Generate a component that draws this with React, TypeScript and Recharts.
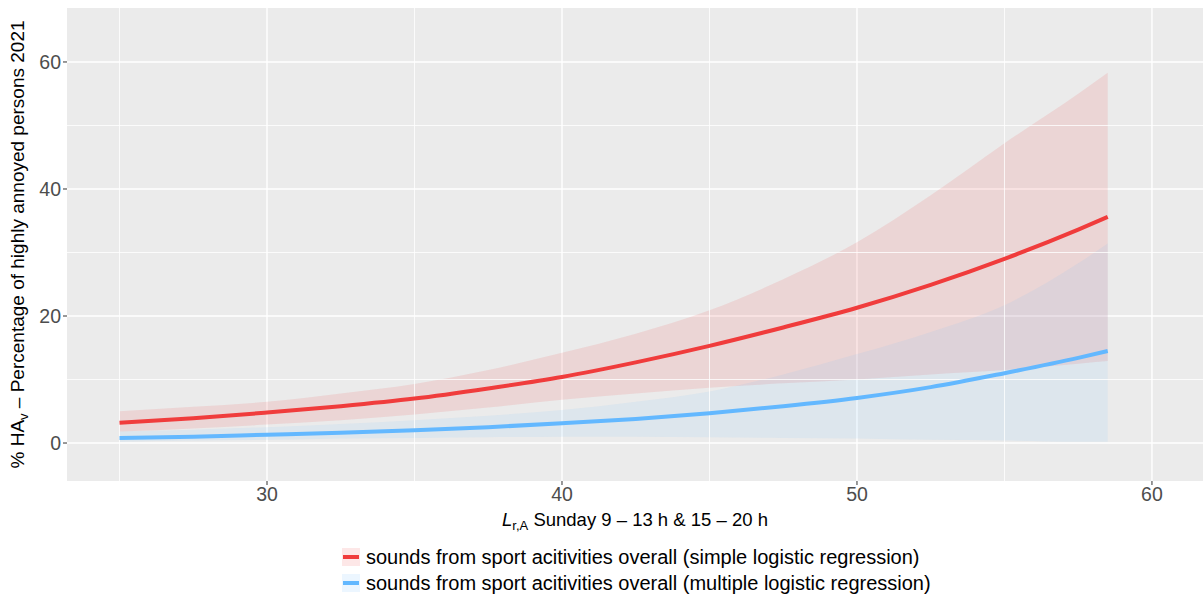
import React from "react";
import { ComposedChart, Area, Line, XAxis, YAxis, CartesianGrid, ReferenceLine } from "recharts";

// sound level (x) and estimated % highly annoyed
const levels = [25, 27.5, 30, 32.5, 35, 37.5, 40, 42.5, 45, 47.5, 50, 52.5, 55, 57.5, 58.5];
const simpleFit = [3.2, 3.9, 4.8, 5.8, 7.0, 8.6, 10.4, 12.7, 15.3, 18.2, 21.3, 24.9, 29.0, 33.6, 35.6];
const simpleUpper = [5.0, 5.7, 6.5, 7.8, 9.3, 11.5, 14.2, 17.2, 20.9, 25.8, 31.6, 39.0, 47.2, 55.0, 58.3];
const simpleLower = [1.8, 2.3, 2.9, 3.6, 4.5, 5.6, 6.8, 7.8, 8.7, 9.4, 10.0, 10.8, 11.5, 12.5, 12.9];
const multipleFit = [0.8, 1.0, 1.3, 1.6, 2.0, 2.5, 3.1, 3.8, 4.7, 5.8, 7.1, 8.8, 11.0, 13.4, 14.5];
const multipleUpper = [1.8, 2.1, 2.5, 3.0, 3.6, 4.3, 5.2, 6.5, 8.1, 10.8, 14.0, 17.5, 21.7, 28.3, 31.4];
const multipleLower = [0.2, 0.4, 0.5, 0.7, 0.8, 0.9, 1.0, 1.0, 0.9, 0.8, 0.7, 0.5, 0.4, 0.2, 0.2];

const xTicks = [30, 40, 50, 60];
const yTicks = [0, 20, 40, 60];
const xMinor = [25, 35, 45, 55];
const yMinor = [10, 30, 50];

const legendLabels = [
  "sounds from sport acitivities overall (simple logistic regression)",
  "sounds from sport acitivities overall (multiple logistic regression)",
];

const RED = "#F03C3C";
const BLUE = "#63B8FF";
const FONT = "'Liberation Sans', Arial, sans-serif";

const data = levels.map((x, i) => ({
  x,
  simple: simpleFit[i],
  simpleBand: [simpleLower[i], simpleUpper[i]],
  multiple: multipleFit[i],
  multipleBand: [multipleLower[i], multipleUpper[i]],
}));

const XTitle = (props: any) => {
  const vb = props.viewBox || {};
  const cx = vb.x + vb.width / 2;
  return (
    <text x={cx} y={526} textAnchor="middle" fontSize={18.5} fill="#000" fontFamily={FONT}>
      <tspan fontStyle="italic">L</tspan>
      <tspan fontSize={13} dy={4}>r,A</tspan>
      <tspan dy={-4}> Sunday 9 – 13 h &amp; 15 – 20 h</tspan>
    </text>
  );
};

const YTitle = (props: any) => {
  const vb = props.viewBox || {};
  const cy = vb.y + vb.height / 2;
  return (
    <text x={0} y={0} transform={`translate(24, ${cy}) rotate(-90)`} textAnchor="middle" fontSize={19} fill="#000" fontFamily={FONT}>
      <tspan>% HA</tspan>
      <tspan fontSize={13} dy={4}>v</tspan>
      <tspan dy={-4}> – Percentage of highly annoyed persons 2021</tspan>
    </text>
  );
};

const LegendBox = () => {
  const colors = [RED, BLUE];
  return (
    <div style={{ position: "absolute", left: 342, top: 544, fontFamily: FONT, fontSize: 20, color: "#000" }}>
      {legendLabels.map((t, i) => (
        <div key={t} style={{ display: "flex", alignItems: "center", height: 26, whiteSpace: "nowrap" }}>
          <svg width={18} height={18} style={{ marginRight: 6 }}>
            <rect x={0} y={0} width={18} height={18} fill={colors[i]} fillOpacity={0.12} />
            <line x1={1} x2={17} y1={9} y2={9} stroke={colors[i]} strokeWidth={4} />
          </svg>
          <span>{t}</span>
        </div>
      ))}
    </div>
  );
};

export default function App() {
  return (
    <div style={{ position: "absolute", left: 0, top: 0, width: 1203, height: 599, background: "#fff" }}>
      <ComposedChart width={1203} height={599} data={data} margin={{ top: 8, right: 0, bottom: 78, left: 27 }}>
        <CartesianGrid fill="#EBEBEB" stroke="#FFFFFF" strokeWidth={1.4} horizontalValues={yTicks} verticalValues={xTicks} />
        {xMinor.map((v) => (
          <ReferenceLine key={"vx" + v} x={v} stroke="#FFFFFF" strokeWidth={0.8} />
        ))}
        {yMinor.map((v) => (
          <ReferenceLine key={"hy" + v} y={v} stroke="#FFFFFF" strokeWidth={0.8} />
        ))}
        <XAxis
          dataKey="x"
          type="number"
          domain={[23.22, 61.73]}
          ticks={xTicks}
          allowDataOverflow
          axisLine={false}
          tickLine={{ stroke: "#333333" }}
          tickSize={4}
          tick={{ fill: "#4D4D4D", fontSize: 19.5, fontFamily: FONT }}
          height={40}
          label={<XTitle />}
        />
        <YAxis
          type="number"
          domain={[-5.98, 68.5]}
          ticks={yTicks}
          allowDataOverflow
          axisLine={false}
          tickLine={{ stroke: "#333333" }}
          tickSize={4}
          tick={{ fill: "#4D4D4D", fontSize: 19.5, fontFamily: FONT }}
          width={40}
          label={<YTitle />}
        />
        <Area dataKey="simpleBand" type="monotone" stroke="none" fill={RED} fillOpacity={0.12} isAnimationActive={false} />
        <Area dataKey="multipleBand" type="monotone" stroke="none" fill={BLUE} fillOpacity={0.1} isAnimationActive={false} />
        <Line dataKey="simple" type="monotone" stroke={RED} strokeWidth={4} dot={false} isAnimationActive={false} />
        <Line dataKey="multiple" type="monotone" stroke={BLUE} strokeWidth={4} dot={false} isAnimationActive={false} />
      </ComposedChart>
      <LegendBox />
    </div>
  );
}
